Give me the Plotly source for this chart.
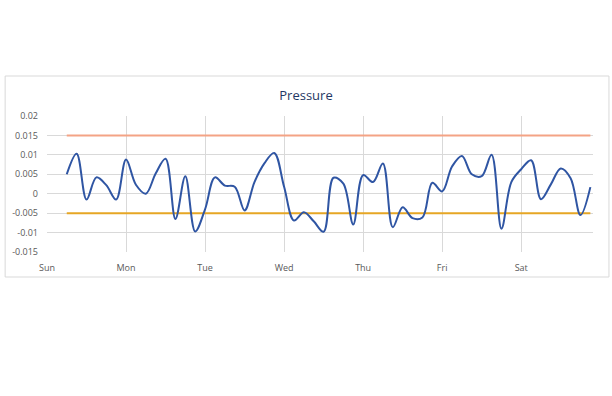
import plotly.graph_objects as go

# Time in hours from Sunday 00:00 (3-hourly samples)
hours = [6, 9, 12, 15, 18, 21, 24, 27, 30, 33, 36, 39, 42, 45, 48, 51, 54, 57,
         60, 63, 66, 69, 72, 75, 78, 81, 84, 87, 90, 93, 96, 99, 102, 105, 108,
         111, 114, 117, 120, 123, 126, 129, 132, 135, 138, 141, 144, 147, 150,
         153, 156, 159, 162, 165]

pressure = [0.0050, 0.0103, -0.0015, 0.0042, 0.0022, -0.0015, 0.0088, 0.0023,
            0.0000, 0.0052, 0.0090, -0.0065, 0.0045, -0.0097, -0.0040, 0.0042,
            0.0021, 0.0018, -0.0043, 0.0030, 0.0078, 0.0105, 0.0018, -0.0069,
            -0.0048, -0.0071, -0.0098, 0.0041, 0.0026, -0.0079, 0.0048, 0.0030,
            0.0078, -0.0086, -0.0035, -0.0063, -0.0061, 0.0028, 0.0006, 0.0070,
            0.0097, 0.0050, 0.0045, 0.0100, -0.0090, 0.0030, 0.0063, 0.0086,
            -0.0014, 0.0024, 0.0065, 0.0040, -0.0055, 0.0017]

upper_limit = 0.015
lower_limit = -0.005

day_ticks = [0, 24, 48, 72, 96, 120, 144]
day_labels = ["Sun", "Mon", "Tue", "Wed", "Thu", "Fri", "Sat"]

y_ticks = [0.02, 0.015, 0.01, 0.005, 0, -0.005, -0.01, -0.015]
y_labels = ["0.02", "0.015", "0.01", "0.005", "0", "-0.005", "-0.01", "-0.015"]

fig = go.Figure()

fig.add_trace(go.Scatter(
    x=hours, y=[upper_limit] * len(hours), mode="lines",
    line=dict(color="#F4A385", width=2), hoverinfo="skip", showlegend=False))
fig.add_trace(go.Scatter(
    x=hours, y=[lower_limit] * len(hours), mode="lines",
    line=dict(color="#E6A624", width=2), hoverinfo="skip", showlegend=False))
fig.add_trace(go.Scatter(
    x=hours, y=pressure, mode="lines",
    line=dict(color="#2F55A3", width=2, shape="spline", smoothing=1.0),
    showlegend=False))

fig.update_layout(
    width=612, height=396,
    margin=dict(l=45, r=19, t=116, b=144),
    paper_bgcolor="white", plot_bgcolor="white",
    font=dict(family="Open Sans, Liberation Sans, sans-serif", color="#595959", size=9),
    title=dict(text="Pressure", x=0.5, xanchor="center", y=1 - 95 / 396, yanchor="middle",
               font=dict(size=13, color="#1F3864", family="Open Sans, sans-serif")),
    xaxis=dict(range=[0, 165.8], tickvals=day_ticks, ticktext=day_labels,
               showgrid=True, gridcolor="#D9D9D9", gridwidth=1,
               zeroline=False, showline=False, ticks="", ticklabelstandoff=9),
    yaxis=dict(range=[-0.015, 0.02], tickvals=y_ticks, ticktext=y_labels,
               showgrid=True, gridcolor="#D9D9D9", gridwidth=1,
               zeroline=False, showline=False, ticks="", ticklabelstandoff=8),
    shapes=[dict(type="rect", xref="paper", yref="paper",
                 x0=(3 - 45) / 548, x1=(609 - 45) / 548,
                 y0=(252 - 277) / 136, y1=(252 - 76) / 136,
                 line=dict(color="#D9D9D9", width=1), fillcolor="rgba(0,0,0,0)",
                 layer="below")],
)

fig.write_html("out.html", config={"displayModeBar": False},
               post_script="document.body.style.margin='0px';document.body.style.overflow='hidden';")
